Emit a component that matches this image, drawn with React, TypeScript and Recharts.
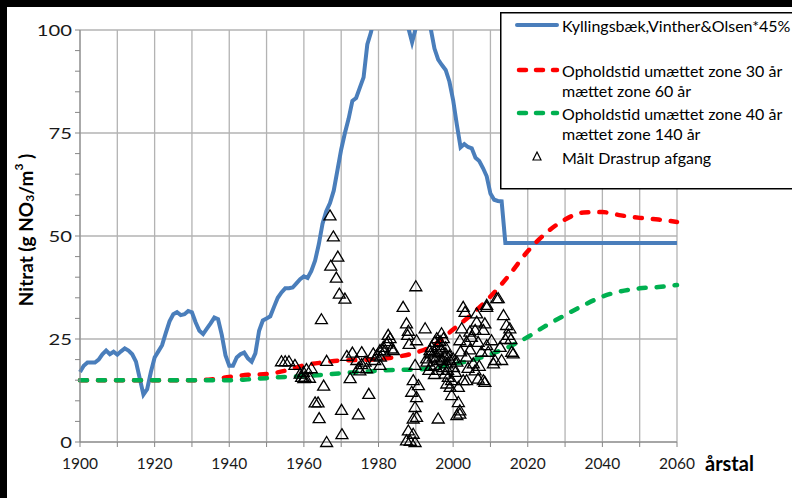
import { ComposedChart, Line, Scatter, XAxis, YAxis, CartesianGrid, Legend } from 'recharts';

const FONT = 'Lato, "Open Sans", sans-serif';

// axis ticks
const xTicks = [1900, 1910, 1920, 1930, 1940, 1950, 1960, 1970, 1980, 1990, 2000, 2010, 2020, 2030, 2040, 2050, 2060];
const yTicks = [0, 5, 10, 15, 20, 25, 30, 35, 40, 45, 50, 55, 60, 65, 70, 75, 80, 85, 90, 95, 100];
const gridValues = [0, 25, 50, 75, 100];

// Kyllingsbæk, Vinther & Olsen * 45%
const blueYears = [
  1900, 1901, 1902, 1903, 1904, 1905, 1906, 1907, 1908, 1909, 1910, 1911, 1912, 1913, 1914, 1915, 1916, 1917, 1918, 1919,
  1920, 1921, 1922, 1923, 1924, 1925, 1926, 1927, 1928, 1929, 1930, 1931, 1932, 1933, 1934, 1935, 1936, 1937, 1938, 1939,
  1940, 1941, 1942, 1943, 1944, 1945, 1946, 1947, 1948, 1949, 1950, 1951, 1952, 1953, 1954, 1955, 1956, 1957, 1958, 1959,
  1960, 1961, 1962, 1963, 1964, 1965, 1966, 1967, 1968, 1969, 1970, 1971, 1972, 1973, 1974, 1975, 1976, 1977, 1978, 1979,
  1980, 1981, 1982, 1983, 1984, 1985, 1986, 1987, 1988, 1989, 1990, 1991, 1992, 1993, 1994, 1995, 1996, 1997, 1998, 1999,
  2000, 2001, 2002, 2003, 2004, 2005, 2006, 2007, 2008, 2009, 2010, 2011, 2012, 2013, 2014, 2060,
];
const blueValues = [
  17, 18.5, 19.3, 19.3, 19.3, 20, 21.3, 22.2, 21.3, 21.9, 21.2, 22, 22.7, 22.2, 21.3, 19.5, 15.5, 11.5, 12.8, 17,
  20.5, 22, 23.5, 26.5, 29.3, 31, 31.5, 30.8, 31, 31.8, 31.5, 29, 27, 26.2, 27.5, 28.8, 30.2, 29.8, 26, 21,
  18.5, 18.5, 20.5, 21.3, 21.7, 20.3, 19.5, 21.5, 27, 29.5, 30, 30.5, 32.8, 35, 36.3, 37.3, 37.3, 37.5, 38.5, 39.5,
  40.2, 39.8, 41.5, 44, 48, 53, 56, 58, 61, 66, 71, 75, 78.5, 82.8, 83.5, 86, 88.5, 96.5, 99.5, 104,
  108, 111, 113, 114, 114, 112, 109, 104, 100.5, 97, 100.5, 104, 105, 103, 100.3, 95.5, 92.8, 91.5, 90.3, 87.5,
  83, 77, 71.5, 72.3, 71.6, 71.3, 69, 68.2, 66.5, 64.5, 60.3, 58.8, 58.5, 58.4, 48.3, 48.3,
];

// Opholdstid umættet zone 30 år / mættet zone 60 år
const redYears = [1900, 1910, 1920, 1930, 1935, 1940, 1945, 1950, 1955, 1960, 1965, 1970, 1975, 1980, 1985, 1990, 1995, 2000, 2005, 2010, 2015, 2020, 2025, 2030, 2035, 2040, 2045, 2050, 2055, 2060];
const redValues = [15, 15, 15, 15, 15.2, 15.8, 16.3, 16.5, 17.3, 18.6, 19.3, 19.8, 19.9, 20.1, 20.7, 21.7, 23.6, 27.3, 31, 35.3, 40.5, 46.3, 50.8, 54, 55.7, 55.8, 55, 54.4, 54, 53.4];

// Opholdstid umættet zone 40 år / mættet zone 140 år
const greenYears = [1900, 1910, 1920, 1930, 1940, 1945, 1950, 1955, 1960, 1965, 1970, 1975, 1980, 1985, 1990, 1995, 2000, 2005, 2010, 2015, 2020, 2025, 2030, 2035, 2040, 2045, 2050, 2055, 2060];
const greenValues = [15, 15, 15, 15, 15, 15.2, 15.5, 15.8, 16, 16.3, 16.7, 17, 17.3, 17.5, 17.6, 18, 18.9, 19.8, 21.3, 23.1, 25.5, 28.3, 30.8, 33.2, 35.3, 36.6, 37.3, 37.6, 38.1];

// Målt Drastrup afgang
const measuredYears = [
  1954, 1955, 1956, 1957.6, 1959, 1959.4, 1960, 1960.3, 1961.5, 1959.9, 1960.7, 1962, 1963, 1963.8, 1964.1, 1964.7, 1965.3, 1966.1, 1966.1,
  1967, 1967.9, 1969.1, 1967.2, 1968.7, 1969.5, 1971, 1970.1, 1970.2, 1972.4, 1971.5, 1973, 1974.6, 1975.5, 1974.6, 1975.5, 1976.8, 1977.4,
  1974.2, 1976.4, 1975, 1978.6, 1979, 1979.5, 1980.5, 1980.4, 1980.4, 1981.3, 1981.5, 1982.2, 1982.6, 1983.1, 1983.5, 1984, 1982.6,
  1986.6, 1987.5, 1988, 1987.8, 1988.2, 1990, 1990.2, 1992.5, 1989.8, 1989.3, 1990.7, 1988.9, 1990.2, 1989.8, 1990.2, 1989.3, 1988, 1989.3,
  1987.5, 1989.8, 1988.5,
  1992.9, 1993.8, 1994.2, 1995.1, 1995.6, 1996.9, 1997.4, 1994.7, 1996, 1996.5, 1997.8, 1995.1, 1997.4, 1998.3, 1999.2, 1997.8, 1998.7,
  1999.6, 1998.3, 1999.2, 2000.1, 2000.6, 2001, 1999.6, 2001.4, 2001.8, 2001, 1996,
  1994, 1995, 1996, 1997, 1998, 1996.5, 1997, 1995.5, 1996, 1994, 1993, 1998.5, 1999, 2000, 1993.5, 1998, 1995,
  2002.7, 2003.2, 2006.3, 2009, 2012.1, 2013.5, 2008.5, 2006.3, 2002.3, 2004.5, 2005.9, 2008.1, 2010.3, 2012.6, 2015.7, 2014.3, 2015.2,
  2014.8, 2015.5, 2001.8, 2003.6, 2004.9, 2006.7, 2007.6, 2009.4, 2011.2, 2013, 2010.8, 2003.6, 2005.4, 2005.9, 2006.7, 2008.5, 2003.6,
  2002.7, 2001.4, 2004, 2002, 2007, 2004.5, 2014, 2009, 2011.7, 2009, 2016.1, 2008.1, 2001.8,
];
const measuredValues = [
  19.6, 19.6, 19.6, 18.7, 16.6, 15.8, 15.5, 15.8, 15.6, 17, 17.7, 17.9, 9.6, 9.6, 5.8, 29.8, 13.7, 19.7, 0,
  55, 49.9, 45, 42.8, 39.9, 36, 34.8, 7.8, 1.9, 15.5, 20.9, 21.7, 6.7, 21.8, 18, 18.9, 17.9, 11.7,
  19.9, 19.5, 17.4, 21.5, 19.9, 21, 20.7, 18.7, 22.3, 23.1, 22, 23.9, 24.5, 25.2, 22.7, 22.3, 26,
  32.8, 28.8, 27, 26, 23.8, 37.8, 24.7, 27.6, 18.7, 15, 13.8, 12.2, 10.9, 8.5, 6.1, 5.7, 2.8, 2,
  0.4, 0, 0.3,
  20.3, 22.3, 23.1, 24.3, 25.2, 26.4, 25.2, 20.7, 21.9, 19.9, 20.7, 18.7, 18.2, 19.1, 19.9, 16.6, 15.8,
  15, 14.2, 13.4, 18.2, 17, 19.5, 11.4, 9.7, 7.7, 6.5, 5.7,
  21.5, 22, 23.5, 22.5, 21.5, 24.5, 20, 20.5, 17.5, 18.5, 19.5, 17.5, 21, 20.3, 17.5, 23, 16.5,
  32.8, 31.6, 31.2, 32.8, 34.9, 30.8, 28.8, 29.2, 27.6, 26.8, 27.2, 27.2, 24.7, 23.1, 21.9, 28.4, 27.6,
  26, 25, 24.7, 24.3, 25.5, 24.3, 21.9, 21.9, 19.9, 19.9, 19.1, 20.7, 19.1, 17.4, 15.4, 14.6, 15,
  15, 13.4, 18, 22, 18.5, 22.5, 25, 23.5, 34.9, 33.3, 21.5, 15, 6.9,
];

const toPoints = (years: number[], values: number[]) => years.map((year, i) => ({ year, v: values[i] }));

const blueData = toPoints(blueYears, blueValues);
const redData = toPoints(redYears, redValues);
const greenData = toPoints(greenYears, greenValues);
const measuredData = toPoints(measuredYears, measuredValues);

const BLUE = '#4a7ebb';
const RED = '#ff0000';
const GREEN = '#00b050';
const GRID = '#b3b3b3';
const AXIS = '#868686';

const Triangle = (props: any) => {
  const { cx, cy } = props;
  if (cx == null || cy == null) return null;
  return (
    <path
      d={`M${cx},${cy - 5.5} L${cx + 6},${cy + 4.5} L${cx - 6},${cy + 4.5} Z`}
      fill="none"
      stroke="#000"
      strokeWidth={1.3}
    />
  );
};

// y tick labels are drawn a little wider than the x ones
const YTick = ({ x, y, payload }: any) => {
  const v = payload.value as number;
  if (v % 25 !== 0) return null;
  return (
    <text
      x={x}
      y={y}
      transform={`translate(${x} ${y}) scale(1.35 1) translate(${-x} ${-y})`}
      textAnchor="end"
      dominantBaseline="central"
      fontFamily={FONT}
      fontSize={15}
      fill="#1a1a1a"
    >
      {v}
    </text>
  );
};

const YTitle = ({ viewBox }: any) => {
  const x = viewBox.x - 15;
  const y = viewBox.y + viewBox.height / 2 - 6;
  return (
    <text
      x={x}
      y={y}
      transform={`rotate(-90, ${x}, ${y})`}
      textAnchor="middle"
      dominantBaseline="central"
      fontFamily={FONT}
      fontWeight="bold"
      fontSize={19}
      fill="#000"
    >
      Nitrat (g NO<tspan fontSize={12} dy={4}>3</tspan>
      <tspan dy={-4}>/m</tspan>
      <tspan fontSize={12} dy={-7}>3</tspan>
      <tspan dy={7}> )</tspan>
    </text>
  );
};

const XTitle = ({ viewBox }: any) => (
  <text
    x={viewBox.x + viewBox.width + 28}
    y={viewBox.y + 29}
    fontFamily={FONT}
    fontWeight="bold"
    fontSize={20}
    fill="#000"
  >
    årstal
  </text>
);

function LegendBox() {
  const txt = { fontFamily: FONT, fontSize: 16, fill: '#000' };
  return (
    <svg width={310} height={178} style={{ display: 'block' }}>
      <rect x={0.75} y={0.75} width={320} height={176} fill="#fff" stroke="#000" strokeWidth={1.5} />
      <line x1={17} y1={13} x2={57} y2={13} stroke={BLUE} strokeWidth={4} strokeLinecap="round" />
      <text x={62} y={13} dominantBaseline="central" {...txt}>Kyllingsbæk,Vinther&amp;Olsen*45%</text>
      <line x1={19} y1={58} x2={57} y2={58} stroke={RED} strokeWidth={4.5} strokeLinecap="round" strokeDasharray="7 10" />
      <text x={62} y={58} dominantBaseline="central" {...txt}>Opholdstid umættet zone 30 år</text>
      <text x={62} y={78} dominantBaseline="central" {...txt}>mættet zone 60 år</text>
      <line x1={19} y1={101} x2={57} y2={101} stroke={GREEN} strokeWidth={4.5} strokeLinecap="round" strokeDasharray="7 10" />
      <text x={62} y={101} dominantBaseline="central" {...txt}>Opholdstid umættet zone 40 år</text>
      <text x={62} y={121} dominantBaseline="central" {...txt}>mættet zone 140 år</text>
      <path d="M37,140 L41,148 L33,148 Z" fill="none" stroke="#000" strokeWidth={1.2} />
      <text x={62} y={145} dominantBaseline="central" {...txt}>Målt Drastrup afgang</text>
    </svg>
  );
}

export default function App() {
  const tickStyle = { fontFamily: FONT, fontSize: 15.5, fill: '#1a1a1a' };
  return (
    <div style={{ position: 'relative', width: 792, height: 498, background: '#000', overflow: 'hidden' }}>
      <style>{'body{margin:0}'}</style>
      <div style={{ position: 'absolute', left: 7, top: 7, width: 785, height: 491, background: '#fff' }} />
      <div style={{ position: 'absolute', left: 0, top: 0 }}>
        <ComposedChart width={792} height={498} margin={{ top: 30, right: 115, bottom: 26, left: 40 }}>
          <CartesianGrid stroke={GRID} strokeWidth={1.3} horizontalValues={gridValues} />
          <XAxis
            type="number"
            dataKey="year"
            domain={[1900, 2060]}
            ticks={xTicks}
            interval={0}
            height={30}
            stroke={AXIS}
            tickSize={5}
            tickMargin={11}
            tick={tickStyle}
            tickFormatter={(v: number) => (v % 20 === 0 ? String(v) : '')}
            label={XTitle}
          />
          <YAxis
            type="number"
            dataKey="v"
            domain={[0, 100]}
            allowDataOverflow
            ticks={yTicks}
            interval={0}
            width={40}
            stroke={AXIS}
            tickSize={5}
            tickMargin={3}
            tick={YTick}
            label={YTitle}
          />
          <YAxis yAxisId="pts" type="number" dataKey="v" domain={[0, 100]} hide />
          <Legend
            layout="vertical"
            align="center"
            verticalAlign="middle"
            content={() => <LegendBox />}
            wrapperStyle={{ position: 'absolute', left: 500, top: 12, width: 310, height: 178, margin: 0 }}
          />
          <Line
            data={blueData}
            dataKey="v"
            type="linear"
            stroke={BLUE}
            strokeWidth={4}
            dot={false}
            isAnimationActive={false}
          />
          <Line
            data={redData}
            dataKey="v"
            type="monotone"
            stroke={RED}
            strokeWidth={4.5}
            strokeDasharray="7 11"
            strokeLinecap="round"
            dot={false}
            isAnimationActive={false}
          />
          <Line
            data={greenData}
            dataKey="v"
            type="monotone"
            stroke={GREEN}
            strokeWidth={4.5}
            strokeDasharray="7 11"
            strokeLinecap="round"
            dot={false}
            isAnimationActive={false}
          />
          <Scatter
            data={measuredData}
            dataKey="v"
            yAxisId="pts"
            shape={Triangle}
            isAnimationActive={false}
          />
        </ComposedChart>
      </div>
    </div>
  );
}
